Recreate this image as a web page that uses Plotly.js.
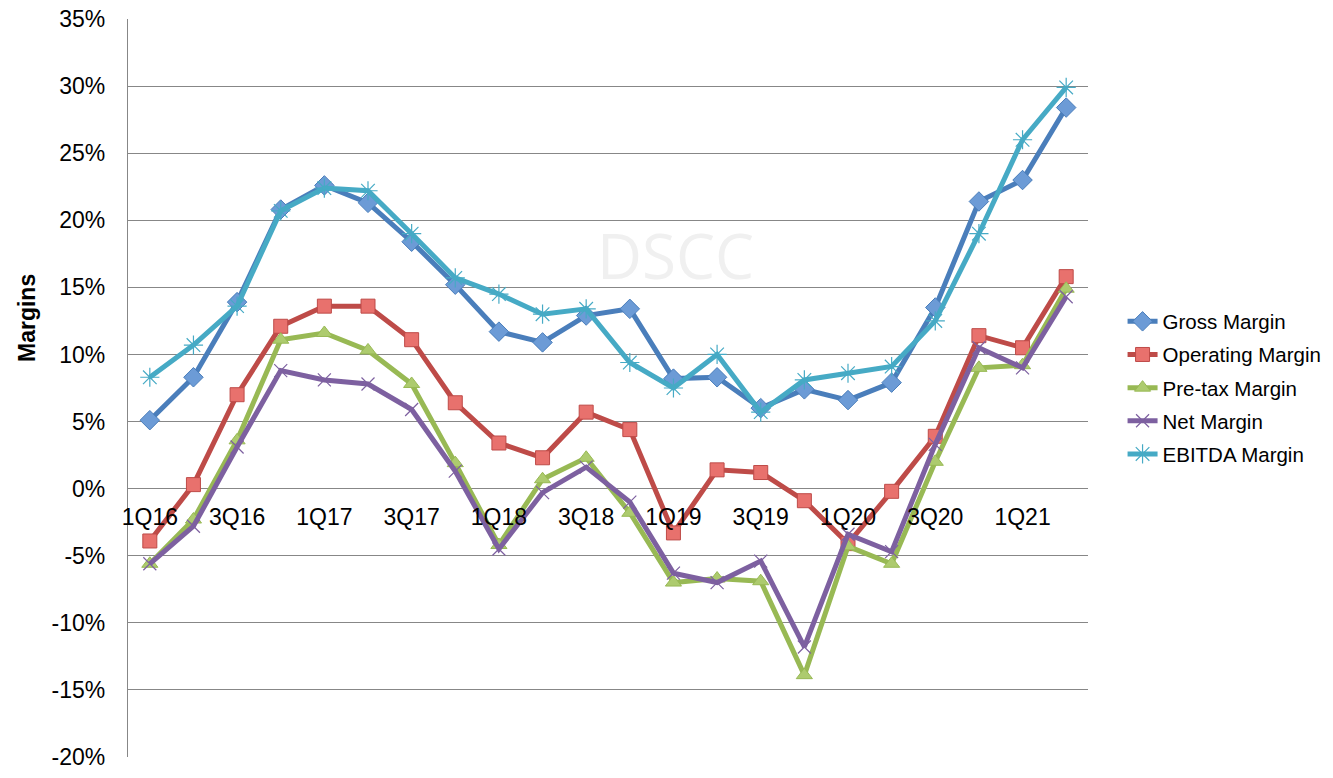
<!DOCTYPE html>
<html>
<head>
<meta charset="utf-8">
<script src="https://cdn.plot.ly/plotly-3.0.1.min.js"></script>
<style>
  html, body { margin: 0; padding: 0; background: #fff; }
  #chart { width: 1333px; height: 778px; }
</style>
</head>
<body>
<div id="chart"></div>
<script>
var quarters = ["1Q16","2Q16","3Q16","4Q16","1Q17","2Q17","3Q17","4Q17","1Q18","2Q18","3Q18","4Q18",
                "1Q19","2Q19","3Q19","4Q19","1Q20","2Q20","3Q20","4Q20","1Q21","2Q21"];
var tickLabels = ["1Q16","3Q16","1Q17","3Q17","1Q18","3Q18","1Q19","3Q19","1Q20","3Q20","1Q21"];
var yTicks = [-20, -15, -10, -5, 0, 5, 10, 15, 20, 25, 30, 35];
var yTickText = ["-20%","-15%","-10%","-5%","0%","5%","10%","15%","20%","25%","30%","35%"];

// margins in %
var gross     = [5.1, 8.3, 13.9, 20.8, 22.6, 21.3, 18.4, 15.2, 11.7, 10.9, 12.9, 13.4, 8.2, 8.3, 6.0, 7.4, 6.6, 7.9, 13.5, 21.4, 23.0, 28.4];
var operating = [-3.9, 0.3, 7.0, 12.1, 13.6, 13.6, 11.1, 6.4, 3.4, 2.3, 5.7, 4.4, -3.3, 1.4, 1.2, -0.9, -4.1, -0.2, 3.9, 11.4, 10.5, 15.8];
var pretax    = [-5.6, -2.3, 3.6, 11.1, 11.6, 10.3, 7.8, 1.9, -4.2, 0.7, 2.3, -1.8, -7.0, -6.7, -6.9, -13.9, -4.3, -5.6, 2.0, 9.0, 9.2, 14.9];
var net       = [-5.6, -2.8, 3.1, 8.8, 8.1, 7.8, 5.9, 1.3, -4.5, -0.3, 1.6, -1.0, -6.3, -7.0, -5.4, -11.8, -3.4, -4.7, 3.3, 10.5, 9.0, 14.3];
var ebitda    = [8.3, 10.7, 13.6, 20.7, 22.4, 22.2, 19.0, 15.7, 14.5, 13.0, 13.4, 9.4, 7.5, 10.0, 5.7, 8.1, 8.6, 9.1, 12.5, 19.0, 26.0, 29.9];

var font = "Liberation Sans, Arial, sans-serif";

function series(name, y, lineColor, marker, group) {
  return {
    x: quarters,
    y: y,
    name: name,
    type: "scatter",
    mode: "lines+markers",
    line: {color: lineColor, width: 5},
    marker: marker,
    legendgroup: group,
    hoverinfo: "x+y+name"
  };
}

var data = [
  series("Gross Margin", gross, "#4A7EBB",
    {symbol: "diamond", size: 15, color: "#6C9BD6", line: {color: "#4A7EBB", width: 1}}, "g1"),
  series("Operating Margin", operating, "#BE4B48",
    {symbol: "square", size: 14, color: "#E8716D", line: {color: "#BE4B48", width: 1}}, "g2"),
  series("Pre-tax Margin", pretax, "#98B954",
    {symbol: "triangle-up", size: 14, color: "#ADCB6E", line: {color: "#98B954", width: 1}}, "g3"),
  series("Net Margin", net, "#7D60A0",
    {symbol: "x-thin-open", size: 13, color: "#7D60A0", line: {color: "#7D60A0", width: 1.2}}, "g4"),
  series("EBITDA Margin", ebitda, "#46AAC5",
    {symbol: "asterisk-open", size: 16, color: "#46AAC5", line: {color: "#46AAC5", width: 1.2}}, "g5")
];

var layout = {
  width: 1333,
  height: 778,
  paper_bgcolor: "#ffffff",
  plot_bgcolor: "#ffffff",
  margin: {l: 128, r: 245, t: 19, b: 21, autoexpand: false},
  font: {family: font, size: 23, color: "#000000"},
  showlegend: true,
  legend: {
    x: 1.036, xanchor: "left",
    y: 0.5, yanchor: "middle",
    font: {family: font, size: 20.5, color: "#000000"},
    traceorder: "grouped",
    tracegroupgap: 3.5,
    bgcolor: "rgba(0,0,0,0)"
  },
  xaxis: {
    type: "category",
    range: [-0.5, quarters.length - 0.5],
    anchor: "free",
    position: 20 / 55,
    tickvals: tickLabels,
    ticktext: tickLabels,
    ticks: "outside",
    ticklen: 8,
    tickcolor: "rgba(0,0,0,0)",
    showgrid: false,
    showline: false,
    zeroline: false,
    tickfont: {family: font, size: 23, color: "#000000"}
  },
  yaxis: {
    range: [-20, 35],
    tickvals: yTicks,
    ticktext: yTickText,
    ticks: "outside",
    ticklen: 17,
    tickcolor: "rgba(0,0,0,0)",
    showgrid: true,
    gridcolor: "#878787",
    gridwidth: 1.2,
    showline: true,
    linecolor: "#878787",
    linewidth: 1.2,
    zeroline: false,
    tickfont: {family: font, size: 23, color: "#000000"}
  },
  annotations: [
    {
      text: "Margins", xref: "paper", yref: "paper",
      x: (27 - 128) / 960, y: 1 - (318 - 19) / 738, xanchor: "center", yanchor: "middle",
      textangle: -90, showarrow: false,
      font: {family: font, size: 23, color: "#000000", weight: "bold"}
    },
    {
      text: "DSCC", xref: "paper", yref: "paper",
      x: (675 - 128) / 960, y: 1 - (255 - 19) / 738, xanchor: "center", yanchor: "middle",
      showarrow: false,
      font: {family: "Open Sans, sans-serif", size: 62, color: "#F0F0F0"}
    }
  ]
};

Plotly.newPlot("chart", data, layout, {displayModeBar: false});
</script>
</body>
</html>
